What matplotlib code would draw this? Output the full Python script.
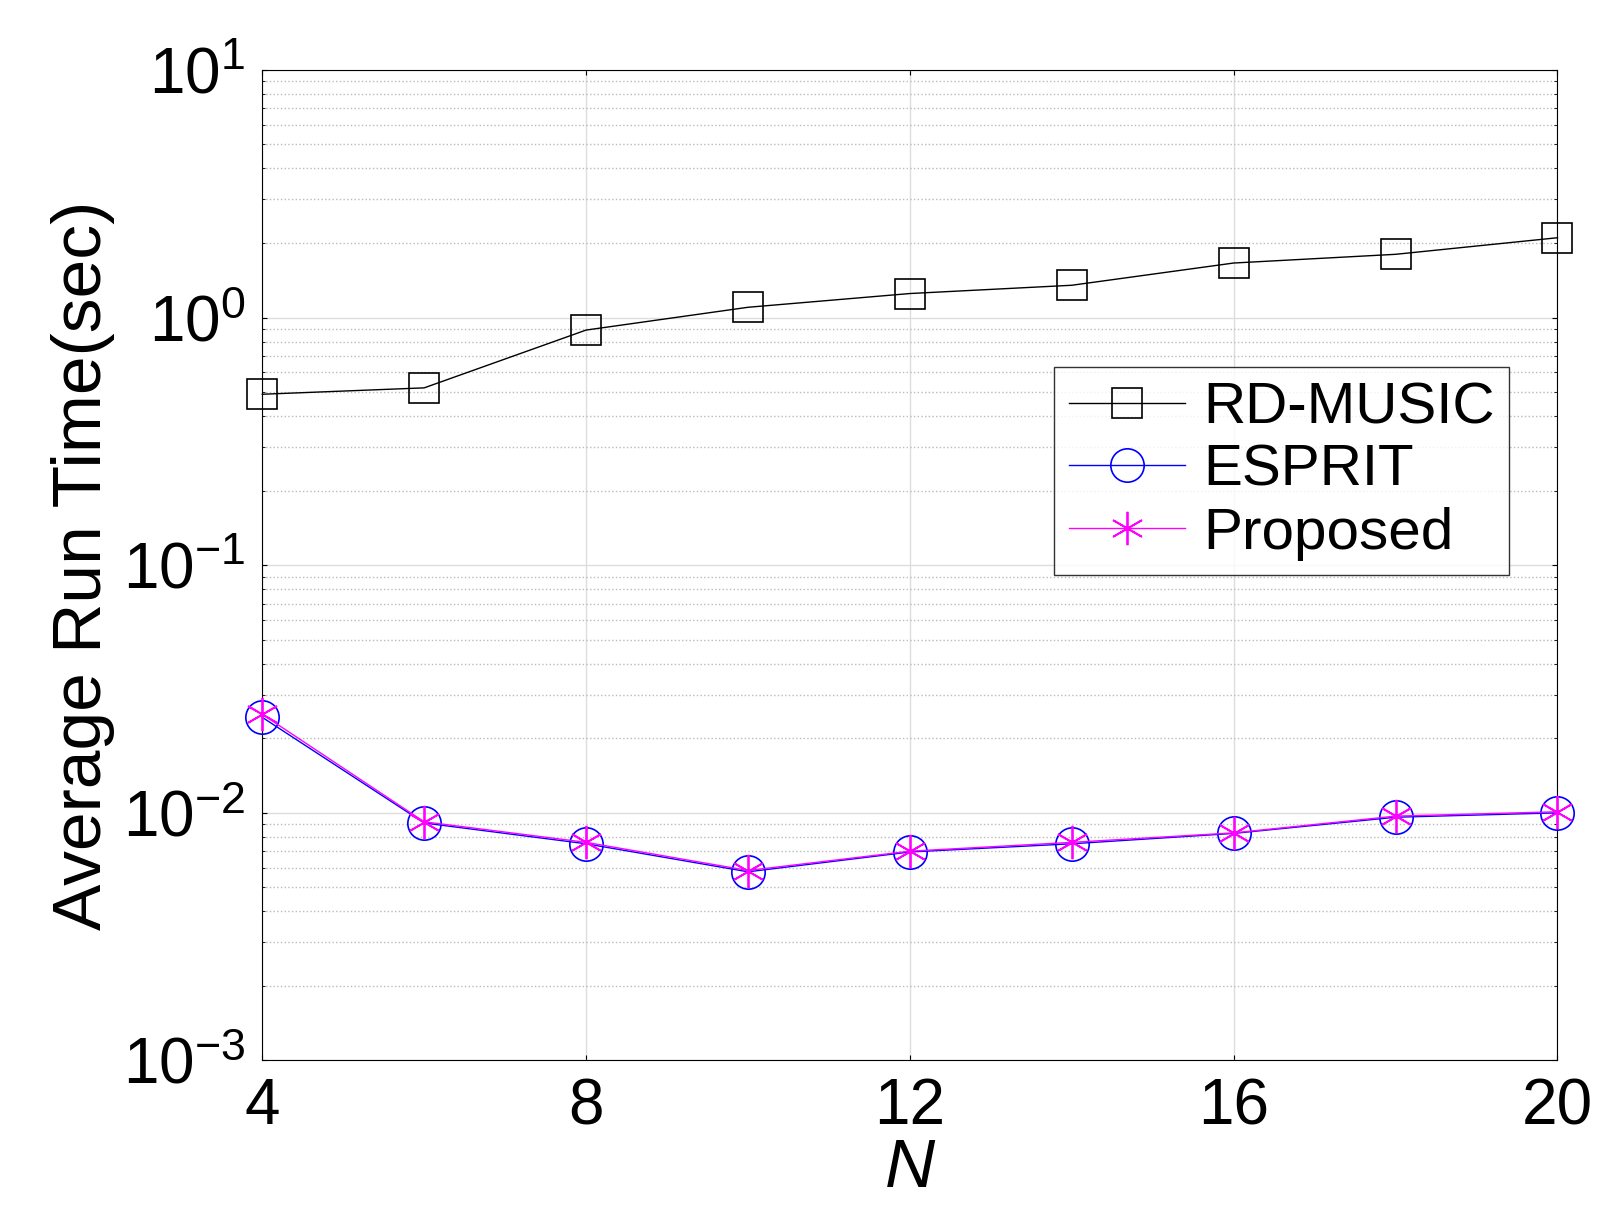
import matplotlib
matplotlib.use("Agg")
from matplotlib import pyplot as plt
from matplotlib.ticker import FixedLocator, FixedFormatter

plt.rcParams['font.family'] = ['Liberation Sans', 'DejaVu Sans']
plt.rcParams['mathtext.fontset'] = 'custom'
plt.rcParams['mathtext.rm'] = 'Liberation Sans'

n_values = [4, 6, 8, 10, 12, 14, 16, 18, 20]
rd_music = [0.49, 0.52, 0.89, 1.10, 1.25, 1.35, 1.66, 1.80, 2.10]
esprit = [0.0243, 0.0091, 0.0075, 0.00578, 0.00695, 0.0075, 0.00826, 0.0096, 0.0100]
proposed = [0.0250, 0.0092, 0.0076, 0.00585, 0.00700, 0.0076, 0.00830, 0.0097, 0.0101]

fig = plt.figure(figsize=(16.19, 12.26), dpi=100)
ax = fig.add_axes([0.162, 0.135, 0.80, 0.808])

ax.plot(n_values, rd_music, color='black', lw=1, marker='s', ms=22,
        mfc='none', mew=1.2, label='RD-MUSIC', clip_on=False, zorder=3)
ax.plot(n_values, esprit, color='blue', lw=1, marker='o', ms=24,
        mfc='none', mew=1.2, label='ESPRIT', clip_on=False, zorder=3)
ax.plot(n_values, proposed, color='magenta', lw=1, marker=(6, 2, 0), ms=24,
        mew=1.3, label='Proposed', clip_on=False, zorder=4)

ax.set_yscale('log')
ax.set_ylim(1e-3, 10)
ax.set_xlim(4, 20)
ax.set_xticks([4, 8, 12, 16, 20])
ax.yaxis.set_major_locator(FixedLocator([1e-3, 1e-2, 1e-1, 1, 10]))
ax.yaxis.set_major_formatter(FixedFormatter(
    [r'$\mathregular{10^{-3}}$', r'$\mathregular{10^{-2}}$', r'$\mathregular{10^{-1}}$',
     r'$\mathregular{10^{0}}$', r'$\mathregular{10^{1}}$']))
ax.grid(True, which='major', color='#dddddd', lw=1)
ax.grid(True, which='minor', color='#bbbbbb', ls=':', lw=1)
ax.tick_params(labelsize=46, direction='in', which='both', top=True, right=True, pad=12)
ax.set_xlabel('N', fontsize=50, style='italic', labelpad=0)
ax.set_ylabel('Average Run Time(sec)', fontsize=50, labelpad=6)

leg = ax.legend(loc='upper right', bbox_to_anchor=(0.985, 0.73), fontsize=42,
                fancybox=False, edgecolor='black', handlelength=2.0,
                borderpad=0.25, labelspacing=0.15, handletextpad=0.3)
leg.get_frame().set_linewidth(1)

fig.savefig('out.png', dpi=100)
